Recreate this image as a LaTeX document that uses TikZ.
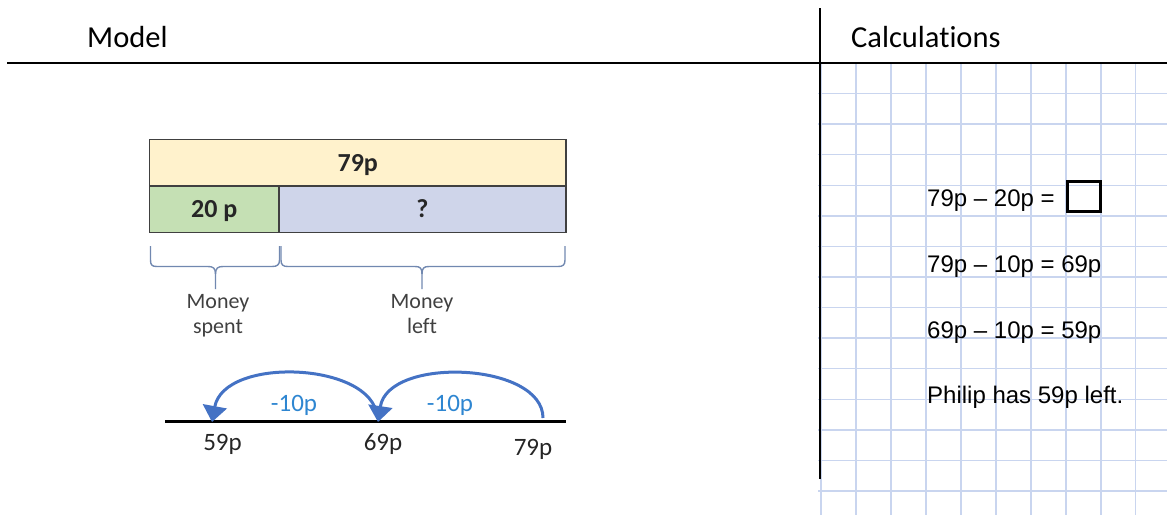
\documentclass[tikz,border=0pt]{standalone}
\usepackage{fontspec}
\setmainfont[RawFeature={-liga;-clig;-calt;-dlig}]{Carlito}
\newfontfamily\arialf{Liberation Sans}
\usetikzlibrary{arrows.meta}
\definecolor{barbg}{HTML}{FFF2CC}
\definecolor{spentbg}{HTML}{C5E0B4}
\definecolor{leftbg}{HTML}{CFD5EA}
\definecolor{barline}{HTML}{404040}
\definecolor{gridc}{HTML}{C9D5EF}
\definecolor{bracec}{HTML}{7188B0}
\definecolor{jumpc}{HTML}{4472C4}
\definecolor{jumptxt}{HTML}{2E86D1}
\definecolor{txt}{HTML}{262626}
\begin{document}
\begin{tikzpicture}[x=1pt,y=-1pt,
  head/.style={anchor=base west,inner sep=0pt,text=black,font=\fontsize{30.5}{35}\selectfont},
  barbox/.style={draw=barline,line width=1.4pt,inner sep=0pt,text height=17pt,text depth=0pt,
    minimum height=46.5pt,font=\bfseries\fontsize{26}{30}\selectfont,text=txt},
  gridl/.style={draw=gridc,line width=1.5pt},
  rule/.style={draw=black,line width=2.7pt},
  bracel/.style={draw=bracec,line width=1.4pt,line join=round},
  lbl/.style={anchor=base,inner sep=0pt,text=barline,font=\fontsize{22}{26}\selectfont},
  numl/.style={anchor=base,inner sep=0pt,text=txt,font=\fontsize{25}{30}\selectfont},
  jumpl/.style={anchor=base,inner sep=0pt,text=jumptxt,font=\fontsize{25}{30}\selectfont},
  jump/.style={draw=jumpc,line width=3pt,-{Triangle[width=24pt,length=16pt]}},
  calc/.style={anchor=base west,inner sep=0pt,text=black,font=\arialf\fontsize{24}{28}\selectfont}
]
\useasboundingbox (0,0) rectangle (1167,515);
% grid
\foreach \k in {0,...,9} \draw[gridl] ({821+34.97*\k},63) -- ({821+34.97*\k},515);
\foreach \j in {1,...,14} \draw[gridl] (818,{63+30.57*\j}) -- (1167,{63+30.57*\j});
% rules
\draw[rule] (7,63) -- (1167,63);
\draw[rule] (820,8) -- (820,479);
% headers
\node[head] (hmodel) at (87,47) {Model};
\node[head] (hcalc) at (851,47) {Calculations};
% bar model
\node[barbox,fill=barbg,minimum width=416.5pt] (total) at (357.75,163) {79p};
\node[barbox,fill=spentbg,minimum width=129.5pt] (spent) at (214.25,209.25) {20 p};
\node[barbox,fill=leftbg,minimum width=287pt] (left) at (422.5,209.25) {?};
% braces
\draw[bracel] (150.5,246) -- (150.5,260) .. controls (150.5,265) and (152,266.5) .. (157,266.5)
  -- (208,266.5) .. controls (213,266.5) and (215.5,268) .. (215.5,274) -- (215.5,289);
\draw[bracel] (215.5,274) .. controls (215.5,268) and (218,266.5) .. (223,266.5)
  -- (272,266.5) .. controls (277,266.5) and (279.5,265) .. (279.5,260) -- (279.5,246);
\draw[bracel] (281,246) -- (281,260) .. controls (281,265) and (283,266.5) .. (288,266.5)
  -- (415,266.5) .. controls (420,266.5) and (422,268) .. (422,274) -- (422,289);
\draw[bracel] (422,274) .. controls (422,268) and (424,266.5) .. (429,266.5)
  -- (558,266.5) .. controls (563,266.5) and (565,265) .. (565,260) -- (565,246);
\node[lbl] (spentl1) at (218,308.5) {Money};
\node[lbl] (spentl2) at (218,333) {spent};
\node[lbl] (leftl1) at (422,308.5) {Money};
\node[lbl] (leftl2) at (422,333) {left};
% number line
\draw[draw=black,line width=3pt] (165,421.5) -- (566,421.5);
\coordinate (p79) at (543,418);
\coordinate (p69) at (378,422);
\coordinate (p69s) at (377,416);
\coordinate (p59) at (212,422);
\draw[jump] (p79) .. controls (543,362) and (388,356) .. (p69);
\draw[jump] (p69s) .. controls (372,362) and (224,356) .. (p59);
\node[jumpl] (j1) at (294,411) {-10p};
\node[jumpl] (j2) at (450,411) {-10p};
\node[numl] (n59) at (222.5,450) {59p};
\node[numl] (n69) at (383,450) {69p};
\node[numl] (n79) at (533,455) {79p};
% calculations
\node[calc] (c1) at (927,206.5) {79p – 20p =};
\node[draw=black,line width=2.8pt,minimum width=33pt,minimum height=30pt,inner sep=0pt] (ans) at (1084,196.5) {};
\node[calc] (c2) at (927,272) {79p – 10p = 69p};
\node[calc] (c3) at (927,338) {69p – 10p = 59p};
\node[calc] (c4) at (927,403.5) {Philip has 59p left.};
\end{tikzpicture}
\end{document}
